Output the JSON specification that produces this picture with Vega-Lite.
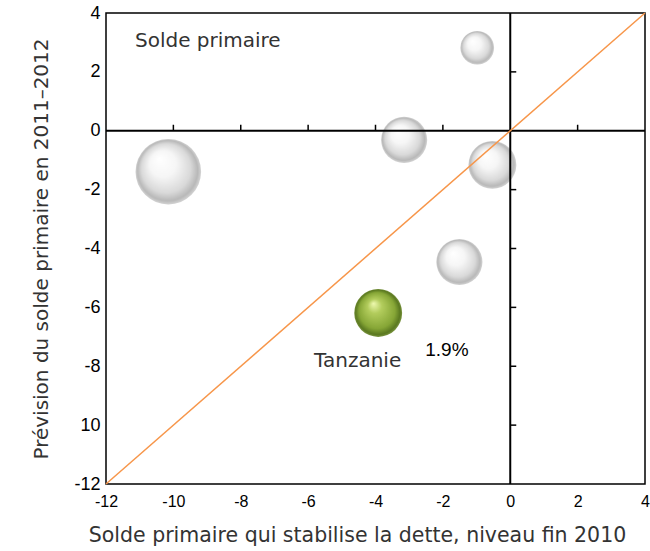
{
  "$schema": "https://vega.github.io/schema/vega-lite/v6.json",
  "width": 539,
  "height": 471,
  "autosize": "none",
  "padding": {"left": 106, "top": 13, "right": 5, "bottom": 67},
  "background": "white",
  "config": {
    "view": {"stroke": "black", "strokeWidth": 1.5},
    "axis": {"grid": false, "ticks": false, "domain": false}
  },
  "datasets": {
    "pays": [
      {"pays": "A", "x": -10.15, "y": -1.39, "taille": 4300, "groupe": "autre"},
      {"pays": "B", "x": -0.98, "y": 2.82, "taille": 1134, "groupe": "autre"},
      {"pays": "C", "x": -3.15, "y": -0.31, "taille": 2124, "groupe": "autre"},
      {"pays": "D", "x": -0.53, "y": -1.16, "taille": 2290, "groupe": "autre"},
      {"pays": "E", "x": -1.51, "y": -4.46, "taille": 2124, "groupe": "autre"},
      {"pays": "Tanzanie", "x": -3.92, "y": -6.19, "taille": 2290, "groupe": "Tanzanie"}
    ],
    "zero": [{"v": 0}],
    "diag": [{"x": -12, "y": -12, "x2": 4, "y2": 4}],
    "xticks": [{"v": -10}, {"v": -8}, {"v": -6}, {"v": -4}, {"v": -2}, {"v": 2}],
    "yticks": [{"v": 2}, {"v": -2}, {"v": -4}, {"v": -6}, {"v": -8}, {"v": -10}],
    "labelsL": [{"x": -11.14, "y": 3.04, "t": "Solde primaire"}],
    "labelsC": [{"x": -4.53, "y": -7.82, "t": "Tanzanie"}],
    "labels2": [{"x": -1.88, "y": -7.45, "t": "1.9%"}]
  },
  "layer": [
    {
      "data": {"name": "pays"},
      "transform": [{"filter": "datum.groupe == 'autre'"}],
      "mark": {
        "type": "circle",
        "opacity": 1,
        "strokeWidth": 0,
        "fill": {
          "gradient": "radial",
          "x1": 0.36, "y1": 0.3, "r1": 0.0,
          "x2": 0.5, "y2": 0.5, "r2": 0.5,
          "stops": [
            {"offset": 0, "color": "#ffffff"},
            {"offset": 0.4, "color": "#f6f6f6"},
            {"offset": 0.75, "color": "#d9d9d9"},
            {"offset": 0.92, "color": "#b8b8b8"},
            {"offset": 1, "color": "#d4d4d4"}
          ]
        }
      },
      "encoding": {
        "x": {
          "field": "x", "type": "quantitative",
          "scale": {"domain": [-12, 4], "nice": false, "zero": false},
          "axis": {
            "values": [-12, -10, -8, -6, -4, -2, 0, 2, 4],
            "labelExpr": "'' + datum.value",
            "labelFont": "Liberation Sans", "labelFontSize": 16, "labelColor": "black",
            "labelPadding": 9, "labelFlush": false, "labelOverlap": false,
            "title": "Solde primaire qui stabilise la dette, niveau fin 2010",
            "titleFont": "DejaVu Sans", "titleFontSize": 20.5, "titleFontWeight": "normal",
            "titleColor": "#333333", "titlePadding": 16, "titleX": 251
          }
        },
        "y": {
          "field": "y", "type": "quantitative",
          "scale": {"domain": [-12, 4], "nice": false, "zero": false},
          "axis": {
            "values": [4, 2, 0, -2, -4, -6, -8, -10, -12],
            "labelExpr": "datum.value == -10 ? '10' : '' + datum.value",
            "labelFont": "Liberation Sans", "labelFontSize": 18, "labelColor": "black",
            "labelPadding": 6, "labelFlush": false, "labelOverlap": false,
            "title": "Prévision du solde primaire en 2011–2012",
            "titleFont": "DejaVu Sans", "titleFontSize": 20, "titleFontWeight": "normal",
            "titleColor": "#333333", "titlePadding": 22
          }
        },
        "size": {"field": "taille", "type": "quantitative", "scale": {"type": "linear", "domain": [0, 4300], "range": [0, 4300]}, "legend": null}
      }
    },
    {
      "data": {"name": "pays"},
      "transform": [{"filter": "datum.groupe == 'Tanzanie'"}],
      "mark": {
        "type": "circle",
        "opacity": 1,
        "strokeWidth": 0,
        "fill": {
          "gradient": "radial",
          "x1": 0.4, "y1": 0.3, "r1": 0.0,
          "x2": 0.5, "y2": 0.5, "r2": 0.5,
          "stops": [
            {"offset": 0, "color": "#eef9b0"},
            {"offset": 0.3, "color": "#b2cc5c"},
            {"offset": 0.75, "color": "#86a636"},
            {"offset": 0.93, "color": "#5a7820"},
            {"offset": 1, "color": "#7a9440"}
          ]
        }
      },
      "encoding": {
        "x": {"field": "x", "type": "quantitative"},
        "y": {"field": "y", "type": "quantitative"},
        "size": {"field": "taille", "type": "quantitative", "legend": null}
      }
    },
    {
      "data": {"name": "zero"},
      "mark": {"type": "rule", "color": "black", "strokeWidth": 2},
      "encoding": {"x": {"field": "v", "type": "quantitative"}}
    },
    {
      "data": {"name": "zero"},
      "mark": {"type": "rule", "color": "black", "strokeWidth": 2},
      "encoding": {"y": {"field": "v", "type": "quantitative"}}
    },
    {
      "data": {"name": "xticks"},
      "mark": {"type": "tick", "orient": "vertical", "color": "black", "thickness": 1.5, "size": 6, "yOffset": -3, "opacity": 1},
      "encoding": {
        "x": {"field": "v", "type": "quantitative"},
        "y": {"datum": 0, "type": "quantitative"}
      }
    },
    {
      "data": {"name": "yticks"},
      "mark": {"type": "tick", "orient": "horizontal", "color": "black", "thickness": 1.5, "size": 6, "xOffset": 3, "opacity": 1},
      "encoding": {
        "y": {"field": "v", "type": "quantitative"},
        "x": {"datum": 0, "type": "quantitative"}
      }
    },
    {
      "data": {"name": "diag"},
      "mark": {"type": "rule", "color": "#F7964A", "strokeWidth": 1.5},
      "encoding": {
        "x": {"field": "x", "type": "quantitative"},
        "y": {"field": "y", "type": "quantitative"},
        "x2": {"field": "x2"},
        "y2": {"field": "y2"}
      }
    },
    {
      "data": {"name": "labelsL"},
      "mark": {"type": "text", "font": "DejaVu Sans", "fontSize": 20, "color": "#333333", "baseline": "middle", "align": "left"},
      "encoding": {
        "x": {"field": "x", "type": "quantitative"},
        "y": {"field": "y", "type": "quantitative"},
        "text": {"field": "t"}
      }
    },
    {
      "data": {"name": "labelsC"},
      "mark": {"type": "text", "font": "DejaVu Sans", "fontSize": 20, "color": "#333333", "baseline": "middle", "align": "center"},
      "encoding": {
        "x": {"field": "x", "type": "quantitative"},
        "y": {"field": "y", "type": "quantitative"},
        "text": {"field": "t"}
      }
    },
    {
      "data": {"name": "labels2"},
      "mark": {"type": "text", "font": "Liberation Sans", "fontSize": 19, "color": "black", "baseline": "middle", "align": "center"},
      "encoding": {
        "x": {"field": "x", "type": "quantitative"},
        "y": {"field": "y", "type": "quantitative"},
        "text": {"field": "t"}
      }
    }
  ]
}
